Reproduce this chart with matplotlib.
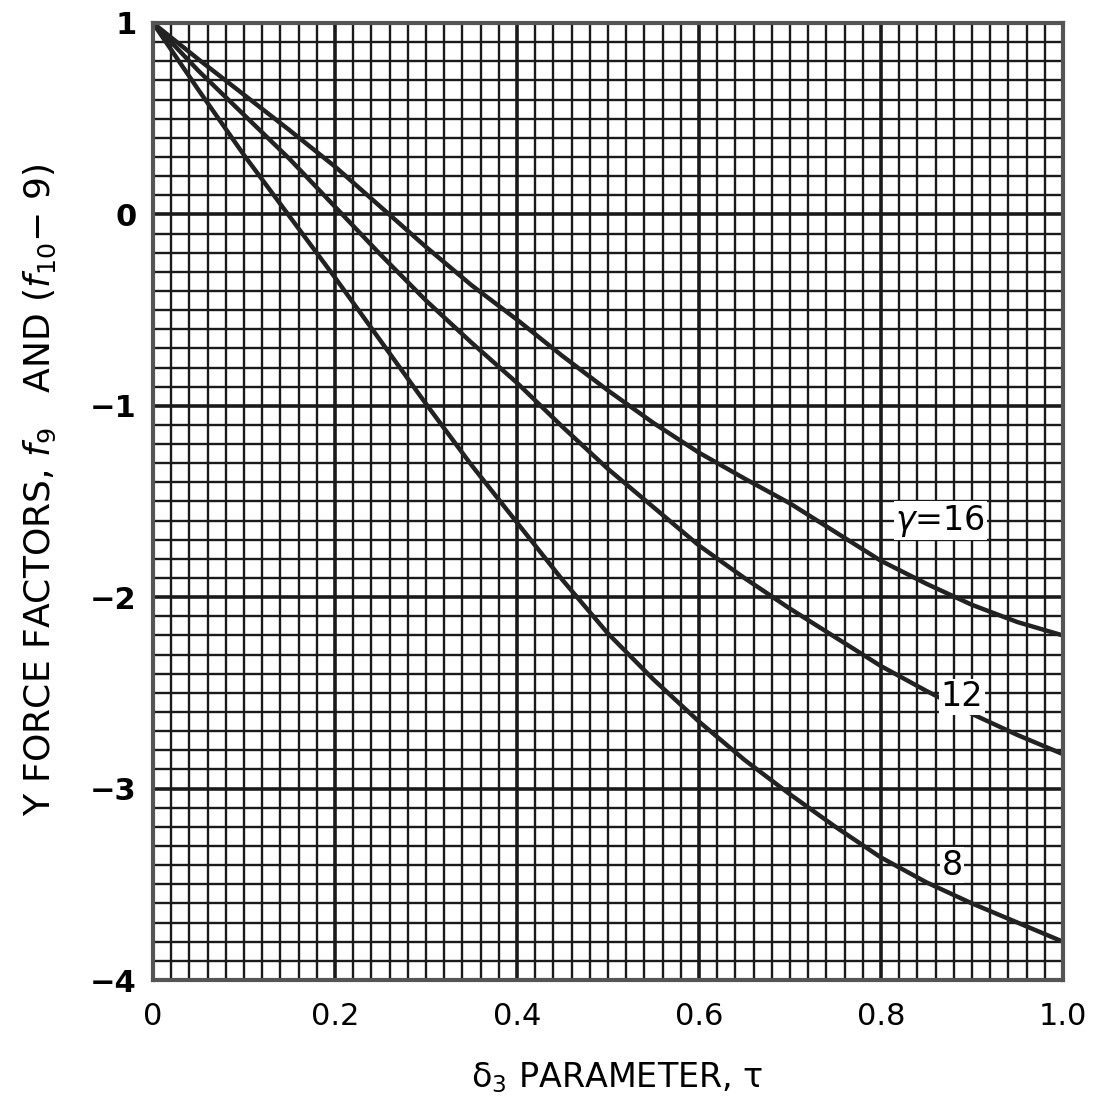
import matplotlib
matplotlib.use("Agg")
import matplotlib.pyplot as plt
import numpy as np

# ---- data ----
tau = [0.0, 0.05, 0.1, 0.15, 0.2, 0.25, 0.3, 0.35, 0.4, 0.45, 0.5,
       0.55, 0.6, 0.65, 0.7, 0.75, 0.8, 0.85, 0.9, 0.95, 1.0]
f_gamma8 = [1.0, 0.65, 0.31, -0.01, -0.33, -0.66, -0.99, -1.31, -1.61, -1.91, -2.19,
            -2.43, -2.65, -2.85, -3.03, -3.20, -3.36, -3.49, -3.60, -3.70, -3.80]
f_gamma12 = [1.0, 0.75, 0.52, 0.29, 0.04, -0.21, -0.45, -0.67, -0.88, -1.11, -1.33,
             -1.53, -1.73, -1.90, -2.06, -2.21, -2.36, -2.49, -2.61, -2.72, -2.82]
f_gamma16 = [1.0, 0.81, 0.625, 0.44, 0.25, 0.04, -0.17, -0.37, -0.55, -0.74, -0.92,
             -1.09, -1.245, -1.38, -1.51, -1.66, -1.81, -1.93, -2.04, -2.13, -2.20]
curve_labels = ["8", "12", r"$\gamma$=16"]
label_pos = [(0.878, -3.40), (0.889, -2.52), (0.865, -1.60)]
xticks = [0, 0.2, 0.4, 0.6, 0.8, 1.0]
xticklabels = ["0", "0.2", "0.4", "0.6", "0.8", "1.0"]
yticks = [1, 0, -1, -2, -3, -4]
yticklabels = ["1", "0", "\u22121", "\u22122", "\u22123", "\u22124"]

fig = plt.figure(figsize=(11.02, 11.17), dpi=100)
ax = fig.add_axes([153/1102, 1-980/1117, 910/1102, (980-23)/1117])

ax.set_xlim(0, 1.0)
ax.set_ylim(-4, 1)

# graph-paper grid
for xv in np.arange(0, 1.0001, 0.02):
    major = abs(round(xv / 0.2) * 0.2 - xv) < 1e-6
    ax.axvline(xv, color="#1a1a1a", lw=2.6 if major else 1.7, zorder=1)
for yv in np.arange(-4, 1.0001, 0.1):
    major = abs(round(yv) - yv) < 1e-6
    ax.axhline(yv, color="#1a1a1a", lw=2.6 if major else 1.7, zorder=1)

for ys in (f_gamma8, f_gamma12, f_gamma16):
    ax.plot(tau, ys, color="#222222", lw=3.2, solid_capstyle="round",
            solid_joinstyle="round", zorder=3)

for lab, (lx, ly) in zip(curve_labels, label_pos):
    ax.text(lx, ly, lab, fontsize=24, ha="center", va="center", zorder=4,
            bbox=dict(facecolor="white", edgecolor="none", pad=1))

ax.set_xticks(xticks)
ax.set_xticklabels(xticklabels, fontsize=22)
ax.set_yticks(yticks)
ax.set_yticklabels(yticklabels, fontsize=22, fontweight="bold")
ax.tick_params(length=0, pad=12)
ax.tick_params(axis="x", pad=16)

for sp in ax.spines.values():
    sp.set_color("#555555")
    sp.set_linewidth(3)
    sp.set_zorder(5)

fig.text(0.560, 1-1078/1117, "\u03b4$_3$ PARAMETER, \u03c4", fontsize=24,
         ha="center", va="center")
fig.text(40/1102, 1-490/1117,
         "Y FORCE FACTORS, $f_9$   AND ($f_{10}$\u2212 9)",
         fontsize=26, rotation=90, ha="center", va="center")

fig.savefig("out.png", dpi=100, facecolor="white")
